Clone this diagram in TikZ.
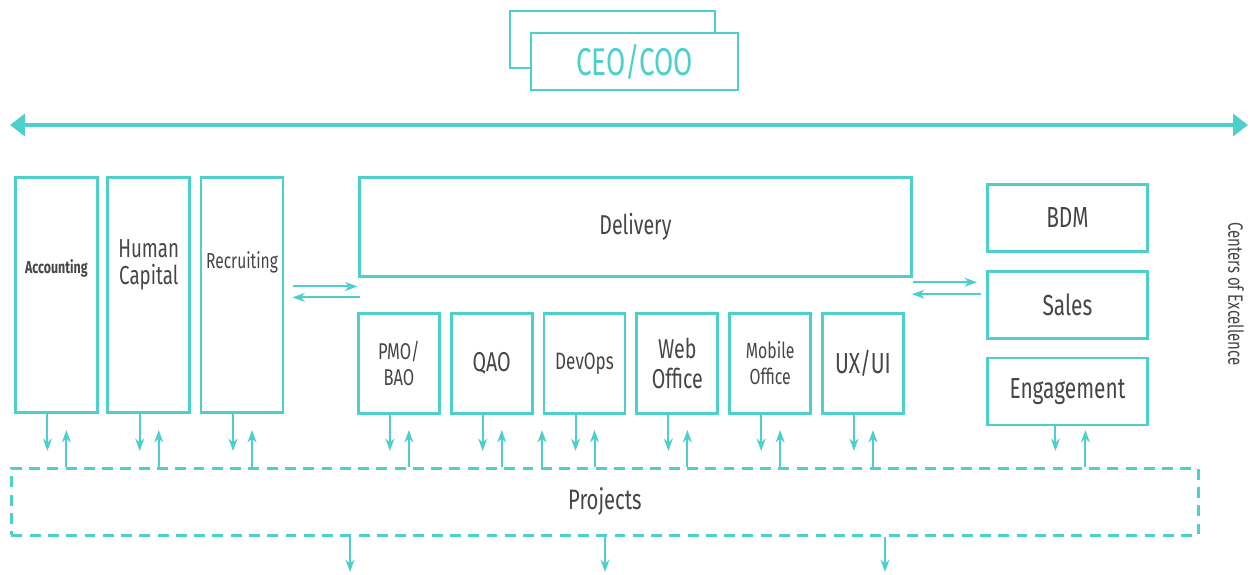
\documentclass[tikz,border=0pt]{standalone}
\usepackage{fontspec}
\setmainfont{Fira Sans}[FakeStretch=0.72]
\usetikzlibrary{arrows.meta,positioning}
\definecolor{turq}{RGB}{77,208,204}
\definecolor{ink}{RGB}{70,70,70}
\tikzset{
  unit/.style={rectangle, draw=turq, line width=1.6pt, fill=white, inner sep=2pt, align=center, text=ink},
  tall/.style={unit, minimum width=1.64cm, minimum height=4.7cm},
  team/.style={unit, minimum width=1.62cm, minimum height=2cm},
  coe/.style={unit, minimum width=3.2cm, minimum height=1.34cm, font=\fontsize{16.5}{16.5}\selectfont},
  lbl/.style={anchor=center, align=center, text=ink, inner sep=0pt},
  link/.style={-{Stealth[length=2.5mm,width=1.8mm]}, draw=turq, line width=1.1pt},
  wide/.style={{Triangle[length=3mm,width=4.4mm]}-{Triangle[length=3mm,width=4.4mm]}, draw=turq, line width=2.8pt}
}
\begin{document}
\begin{tikzpicture}
\useasboundingbox (0,0) rectangle (25.12,-11.48);
\node[unit, minimum width=4.1cm, minimum height=1.14cm] (back) at (12.25,-0.79) {};
\node[unit, minimum width=4.14cm, minimum height=1.14cm, text=turq, font=\fontsize{22}{22}\selectfont] (ceo) at (12.69,-1.23) {CEO/COO};
\coordinate (wl) at (0.2,-2.5);
\coordinate (wr) at (24.96,-2.5);
\draw[wide] (wl) -- (wr);

\node[tall, anchor=north west, label={[lbl, yshift=-1.84cm, font=\bfseries\fontsize{9.8}{10}\selectfont]north:Accounting}] (acc) at (0.28,-3.52) {};
\node[tall, right=0.15cm of acc, label={[lbl, yshift=-1.78cm, font=\fontsize{14.8}{15.3}\selectfont]north:{Human\\Capital}}] (hc) {};
\node[tall, right=0.17cm of hc, label={[lbl, yshift=-1.72cm, font=\fontsize{12.3}{12.3}\selectfont]north:Recruiting}] (rec) {};

\node[unit, anchor=north west, minimum width=11.04cm, minimum height=1.98cm, font=\fontsize{15.5}{15.5}\selectfont] (del) at (7.16,-3.52) {Delivery};
\node[team, anchor=north west, font=\fontsize{13}{14.7}\selectfont] (pmo) at (7.14,-6.24) {PMO/\\BAO};
\node[team, right=0.18cm of pmo, font=\fontsize{15.5}{15.5}\selectfont] (qao) {QAO};
\node[team, right=0.18cm of qao, font=\fontsize{13.5}{13.5}\selectfont] (dev) {DevOps};
\node[team, right=0.18cm of dev, font=\fontsize{15.5}{17}\selectfont] (web) {Web\\Office};
\node[team, right=0.18cm of web, font=\fontsize{12.5}{14.7}\selectfont] (mob) {Mobile\\Office};
\node[team, right=0.18cm of mob, font=\fontsize{16.5}{16.5}\selectfont] (ux) {UX/UI};

\node[coe, anchor=north west] (bdm) at (19.72,-3.66) {BDM};
\node[coe, below=0.34cm of bdm] (sales) {Sales};
\node[coe, below=0.34cm of sales] (eng) {Engagement};
\node[rotate=-90, text=ink, font=\fontsize{11.8}{11.8}\selectfont] (cex) at (24.72,-5.88) {Centers of Excellence};

\node[unit, dashed, dash pattern=on 6.2pt off 4.2pt, anchor=north west, minimum width=23.74cm, minimum height=1.34cm, font=\fontsize{16}{16}\selectfont] (proj) at (0.2,-9.34) {Projects};

\draw[link] ([shift={(0.18,0.17)}]rec.east) -- ([shift={(1.46,0.17)}]rec.east);
\draw[link] ([shift={(1.52,-0.05)}]rec.east) -- ([shift={(0.16,-0.05)}]rec.east);
\draw[link] ([shift={(-1.46,0.45)}]sales.west) -- ([shift={(-0.18,0.45)}]sales.west);
\draw[link] ([shift={(-0.10,0.21)}]sales.west) -- ([shift={(-1.48,0.21)}]sales.west);

\coordinate (dn) at (0,-9.02);
\coordinate (up) at (0,-8.6);
\foreach \b in {acc,hc,rec,pmo,qao,dev,web,mob,ux}{
  \coordinate (\b-d) at ([xshift=-0.18cm]\b.south);
  \coordinate (\b-u) at ([xshift=0.2cm]\b.south);
  \draw[link] (\b-d) -- (\b-d |- dn);
  \draw[link] (\b-u |- proj.north) -- (\b-u |- up);
}
\coordinate (eng-d) at ([xshift=-0.24cm]eng.south);
\coordinate (eng-u) at ([xshift=0.36cm]eng.south);
\draw[link] (eng-d) -- (eng-d |- dn);
\draw[link] (eng-u |- proj.north) -- (eng-u |- up);
\coordinate (qd) at (10.84,-8.6);
\draw[link] (qd |- proj.north) -- (qd);

\foreach \x/\n in {7.0/a,12.1/b,17.7/c}{
  \coordinate (out-\n) at (\x,-11.44);
  \draw[link] (out-\n |- proj.south) -- (out-\n);
}
\end{tikzpicture}
\end{document}
